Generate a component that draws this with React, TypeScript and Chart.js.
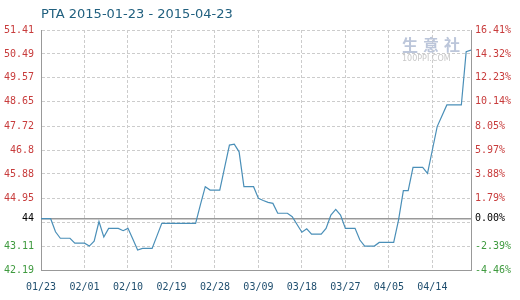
import React, { useEffect, useRef } from "react";
import { Chart, registerables } from "chart.js";

Chart.register(...registerables);

const BASE = 44.16;
const Y_MIN = 42.19;
const Y_MAX = 51.41;

// daily closing values, 2015-01-23 (day 0) .. 2015-04-22 (day 89)
const dayValues = [
  44.16, 44.16, 44.16, 43.66, 43.41, 43.41, 43.41, 43.22, 43.22, 43.22,
  43.11, 43.30, 44.05, 43.46, 43.79, 43.79, 43.79, 43.70, 43.79, 43.38,
  42.96, 43.02, 43.02, 43.02, 43.50, 43.98, 43.98, 43.98, 43.98, 43.98,
  43.98, 43.98, 43.98, 44.70, 45.39, 45.26, 45.26, 45.26, 46.12, 46.99,
  47.02, 46.73, 45.39, 45.39, 45.39, 44.94, 44.86, 44.79, 44.75, 44.37,
  44.37, 44.37, 44.24, 43.94, 43.64, 43.77, 43.57, 43.57, 43.57, 43.79,
  44.30, 44.52, 44.30, 43.79, 43.79, 43.79, 43.34, 43.11, 43.11, 43.11,
  43.25, 43.25, 43.25, 43.25, 44.11, 45.24, 45.24, 46.13, 46.13, 46.13,
  45.90, 46.80, 47.70, 48.12, 48.53, 48.53, 48.53, 48.53, 50.58, 50.64,
];

const xTickDays = [0, 9, 18, 27, 36, 45, 54, 63, 72, 81];
const xTickLabels = ["01/23", "02/01", "02/10", "02/19", "02/28", "03/09", "03/18", "03/27", "04/05", "04/14"];

const yTickValues = [42.19, 43.11, 44.03, 44.16, 44.95, 45.88, 46.8, 47.72, 48.65, 49.57, 50.49, 51.41];
const yLeftLabels = ["42.19", "43.11", "", "44", "44.95", "45.88", "46.8", "47.72", "48.65", "49.57", "50.49", "51.41"];
const yRightLabels = ["-4.46%", "-2.39%", "", "0.00%", "1.79%", "3.88%", "5.97%", "8.05%", "10.14%", "12.23%", "14.32%", "16.41%"];

const TITLE = "PTA 2015-01-23 - 2015-04-23";

const RED = "#c83c3c";
const GREEN = "#3f9a3f";
const BLACK = "#000000";
const GRID = "#cccccc";
const AXIS = "#999999";

const tickColor = (ctx: any) => {
  const v = ctx.tick ? ctx.tick.value : 0;
  if (Math.abs(v - BASE) < 0.001) return BLACK;
  return v > BASE ? RED : GREEN;
};

export default function App() {
  const ref = useRef<HTMLCanvasElement | null>(null);

  useEffect(() => {
    document.body.style.margin = "0";
    const canvas = ref.current;
    if (!canvas) return;
    const monoFont = { family: "'DejaVu Sans Mono', monospace", size: 10 };
    const chart = new Chart(canvas, {
      type: "line",
      data: {
        datasets: [
          {
            data: dayValues.map((v, i) => ({ x: i, y: v })),
            borderColor: "#4a8fb8",
            borderWidth: 1.2,
            pointRadius: 0,
            tension: 0,
            fill: false,
            yAxisID: "y",
          },
        ],
      },
      options: {
        responsive: false,
        animation: false,
        layout: { padding: 0 },
        plugins: {
          legend: { display: false },
          tooltip: { enabled: false },
          title: {
            display: true,
            text: TITLE,
            align: "start",
            fullSize: false,
            color: "#21607f",
            font: { family: "'DejaVu Sans', sans-serif", size: 13, weight: "normal" },
            padding: { top: 7, bottom: 7.4 },
          },
        },
        scales: {
          x: {
            type: "linear",
            min: 0,
            max: 89,
            afterBuildTicks: (s: any) => {
              s.ticks = xTickDays.map((d) => ({ value: d }));
            },
            afterFit: (s: any) => {
              s.height = 30;
            },
            ticks: {
              autoSkip: false,
              maxRotation: 0,
              padding: 11,
              color: "#1f4e6e",
              font: monoFont,
              callback: (_v: any, i: number) => xTickLabels[i],
            },
            grid: { color: GRID, lineWidth: 1, drawTicks: false },
            border: { display: true, color: AXIS, width: 1, dash: [3, 2] },
          },
          y: {
            position: "left",
            min: Y_MIN,
            max: Y_MAX,
            afterBuildTicks: (s: any) => {
              s.ticks = yTickValues.map((v) => ({ value: v }));
            },
            afterFit: (s: any) => {
              s.width = 41;
            },
            ticks: {
              autoSkip: false,
              padding: 7,
              color: tickColor,
              font: monoFont,
              callback: (_v: any, i: number) => yLeftLabels[i],
            },
            grid: {
              drawTicks: false,
              color: (ctx: any) => (ctx.tick && Math.abs(ctx.tick.value - BASE) < 0.001 ? AXIS : GRID),
              lineWidth: (ctx: any) => (ctx.tick && Math.abs(ctx.tick.value - BASE) < 0.001 ? 1.5 : 1),
            },
            border: {
              display: true,
              color: AXIS,
              width: 1,
              dash: (ctx: any) => (ctx.tick && Math.abs(ctx.tick.value - BASE) < 0.001 ? [] : [3, 2]),
            },
          },
          y1: {
            position: "right",
            min: Y_MIN,
            max: Y_MAX,
            afterBuildTicks: (s: any) => {
              s.ticks = yTickValues.map((v) => ({ value: v }));
            },
            afterFit: (s: any) => {
              s.width = 49;
            },
            ticks: {
              autoSkip: false,
              padding: 4,
              color: tickColor,
              font: monoFont,
              callback: (_v: any, i: number) => yRightLabels[i],
            },
            grid: { display: false, drawTicks: false },
            border: { display: true, color: AXIS, width: 1 },
          },
        },
      },
    });
    return () => chart.destroy();
  }, []);

  return (
    <div style={{ position: "relative", width: 520, height: 300, background: "#fff" }}>
      <canvas ref={ref} width={520} height={300} />
      <div
        style={{
          position: "absolute",
          left: 402,
          top: 34,
          fontFamily: "'Noto Sans CJK SC', sans-serif",
          fontWeight: 700,
          fontSize: 16,
          letterSpacing: 5,
          color: "#bcc6da",
          lineHeight: "20px",
          pointerEvents: "none",
        }}
      >
        生意社
      </div>
      <div
        style={{
          position: "absolute",
          left: 402,
          top: 54,
          fontFamily: "'DejaVu Sans', sans-serif",
          fontSize: 8,
          color: "#c8c8c8",
          lineHeight: "10px",
          pointerEvents: "none",
        }}
      >
        100PPI.COM
      </div>
    </div>
  );
}
